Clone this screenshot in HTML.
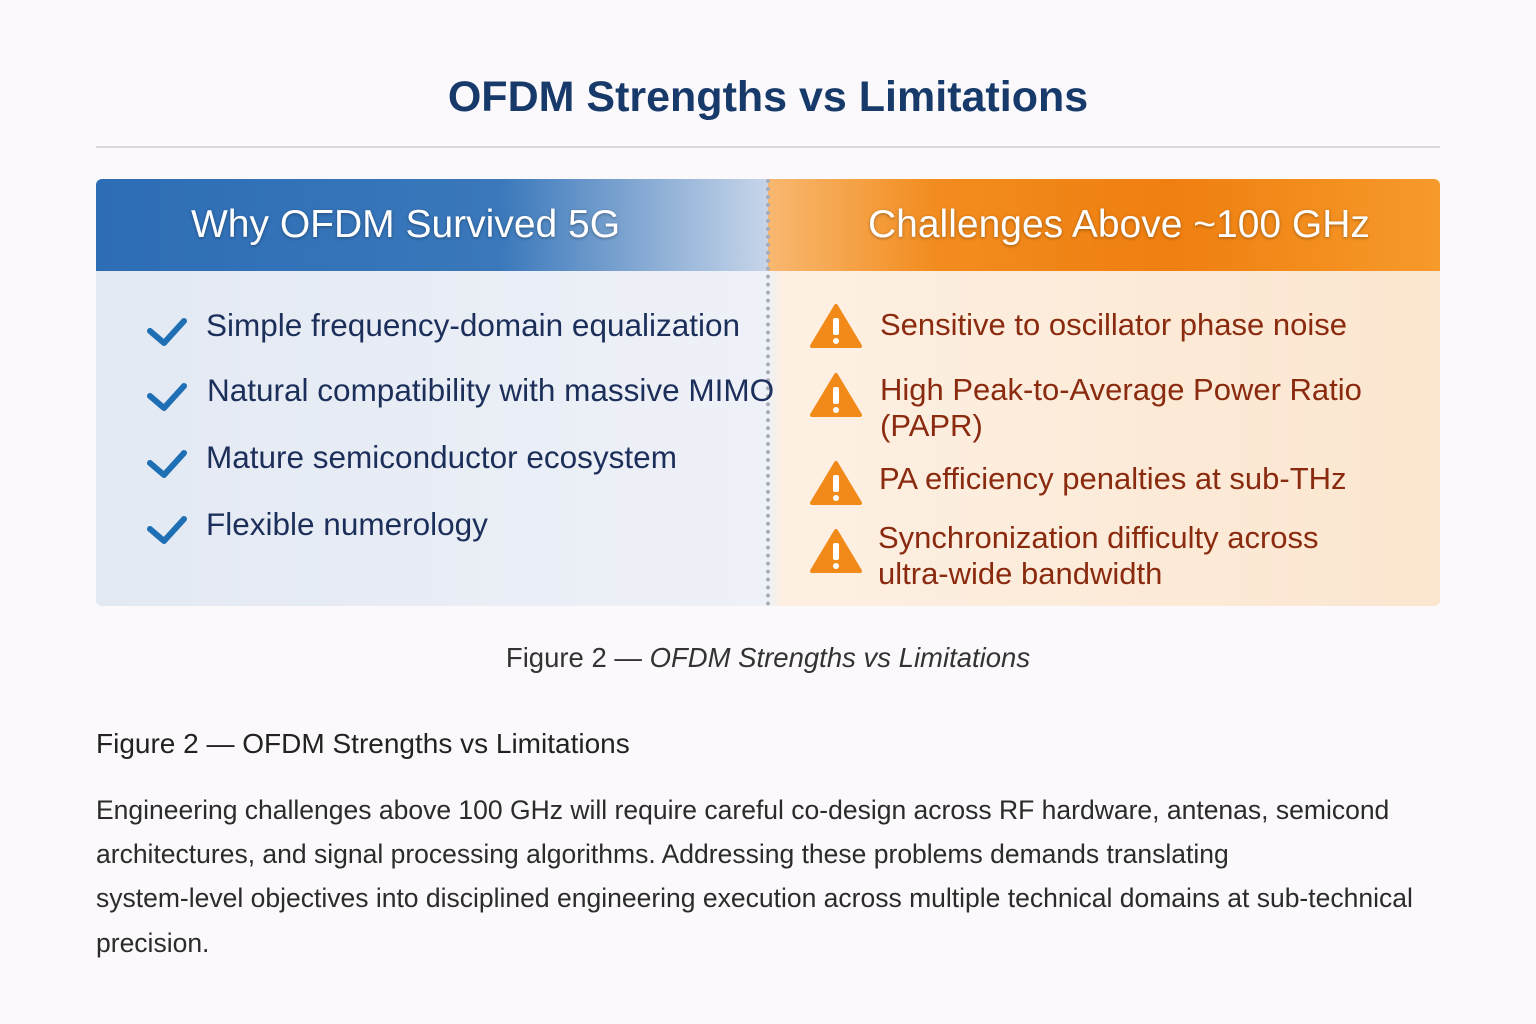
<!DOCTYPE html>
<html><head><meta charset="utf-8"><style>
body{margin:0;width:1536px;height:1024px;background:#fbf9fb;font-family:"Liberation Sans",sans-serif;position:relative;overflow:hidden}
.a{position:absolute;white-space:nowrap}
.title{left:0;width:1536px;text-align:center;top:73px;font-size:43px;font-weight:bold;color:#173a6b}
.hr{left:96px;width:1344px;top:146px;height:2px;background:#d9d9de}
.card{left:96px;top:179px;width:1344px;height:427px;border-radius:6px;overflow:hidden;background:linear-gradient(90deg,#e3e9f3 0%,#eef1f7 50%,#fdf0e3 51%,#fbe6cf 100%)}
.lh{left:0;top:0;width:672px;height:92px;background:linear-gradient(90deg,#2d6db5 0%,#3a78bb 60%,#c7d5e9 100%)}
.rh{left:672px;top:0;width:672px;height:92px;background:linear-gradient(90deg,#f8b870 0%,#f28c1e 25%,#ef7f10 60%,#f69a2a 100%)}
.ht{top:24px;font-size:39px;color:#fff;text-shadow:0 1px 3px rgba(0,0,0,.35)}
.div{left:670px;top:0;height:427px;border-left:4px dotted #a8adb7}
.li{font-size:31.5px;color:#1c2f5a}
.ri{font-size:31px;color:#8a2a0f;line-height:36px}
.cap{top:642px;left:0;width:1536px;text-align:center;font-size:27.5px;color:#333}
.fig{top:728px;left:96px;font-size:28px;color:#222}
.p{left:96px;font-size:26.5px;color:#2b2b2b}
</style></head><body>
<div class="a title">OFDM Strengths vs Limitations</div>
<div class="a hr"></div>
<div class="a card">
 <div class="a lh"></div><div class="a rh"></div>
 <div class="a ht" style="left:95px">Why OFDM Survived 5G</div>
 <div class="a ht" style="left:772px">Challenges Above ~100 GHz</div>
 <div class="a div"></div>
</div>
<svg class="a" style="left:0;top:0" width="1536" height="1024">
 <g fill="none" stroke="#1f6fb5" stroke-width="6" stroke-linecap="round" stroke-linejoin="round">
  <path d="M150 331l14 12 20-22"/><path d="M150 396l14 12 20-22"/><path d="M150 463l14 12 20-22"/><path d="M150 529l14 12 20-22"/>
 </g>
 <g fill="#f28a1a" stroke="#f28a1a" stroke-width="4" stroke-linejoin="round">
  <path d="M836 306l24 40h-48z"/><path d="M836 375l24 40h-48z"/><path d="M836 463l24 40h-48z"/><path d="M836 531l24 40h-48z"/>
 </g>
 <g fill="#fff">
  <rect x="833" y="318" width="6" height="17" rx="2"/><circle cx="836" cy="341" r="3"/>
  <rect x="833" y="387" width="6" height="17" rx="2"/><circle cx="836" cy="410" r="3"/>
  <rect x="833" y="475" width="6" height="17" rx="2"/><circle cx="836" cy="498" r="3"/>
  <rect x="833" y="543" width="6" height="17" rx="2"/><circle cx="836" cy="566" r="3"/>
 </g>
</svg>
<div class="a li" style="left:206px;top:307px">Simple frequency-domain equalization</div>
<div class="a li" style="left:207px;top:372px">Natural compatibility with massive MIMO</div>
<div class="a li" style="left:206px;top:439px">Mature semiconductor ecosystem</div>
<div class="a li" style="left:206px;top:506px">Flexible numerology</div>
<div class="a ri" style="left:880px;top:307px">Sensitive to oscillator phase noise</div>
<div class="a ri" style="left:880px;top:372px">High Peak-to-Average Power Ratio<br>(PAPR)</div>
<div class="a ri" style="left:879px;top:461px">PA efficiency penalties at sub-THz</div>
<div class="a ri" style="left:878px;top:520px">Synchronization difficulty across<br>ultra-wide bandwidth</div>
<div class="a cap">Figure 2 — <i>OFDM Strengths vs Limitations</i></div>
<div class="a fig">Figure 2 — OFDM Strengths vs Limitations</div>
<div class="a p" style="top:795px">Engineering challenges above 100 GHz will require careful co-design across RF hardware, antenas, semicond</div>
<div class="a p" style="top:839px">architectures, and signal processing algorithms. Addressing these problems demands translating</div>
<div class="a p" style="top:883px">system-level objectives into disciplined engineering execution across multiple technical domains at sub-technical</div>
<div class="a p" style="top:928px">precision.</div>
</body></html>
